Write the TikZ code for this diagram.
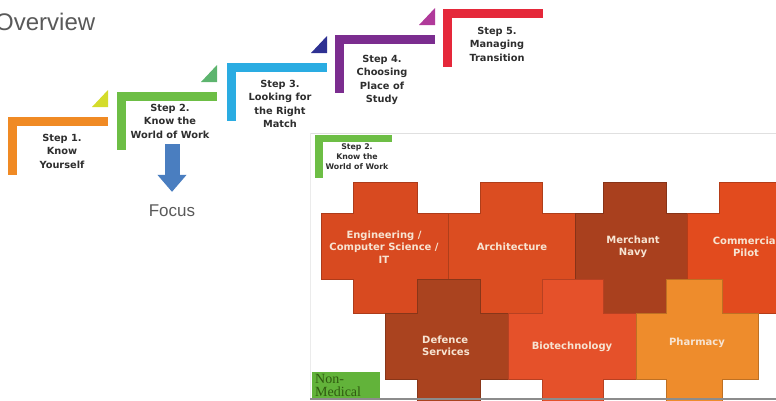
\documentclass[tikz,border=0pt]{standalone}
\usepackage{fontspec}
\setmainfont{Liberation Sans}
\newfontfamily\boxfont{DejaVu Sans}
\newfontfamily\serifbox{Liberation Serif}
\usetikzlibrary{arrows.meta,positioning}
\definecolor{stepone}{HTML}{F08A24}
\definecolor{steptwo}{HTML}{6DBE45}
\definecolor{stepthree}{HTML}{2AACE2}
\definecolor{stepfour}{HTML}{7B2D8F}
\definecolor{stepfive}{HTML}{E5283A}
\definecolor{triyellow}{HTML}{D4DC2A}
\definecolor{trigreen}{HTML}{5DB46E}
\definecolor{triblue}{HTML}{2E3192}
\definecolor{trimagenta}{HTML}{B03A9A}
\definecolor{focusblue}{HTML}{4A7EC0}
\definecolor{textgrey}{HTML}{2E2E2E}
\definecolor{engc}{HTML}{D84A20}
\definecolor{archc}{HTML}{DB4D21}
\definecolor{merchc}{HTML}{A9401E}
\definecolor{commc}{HTML}{E24B1E}
\definecolor{defc}{HTML}{AA431F}
\definecolor{bioc}{HTML}{E5512A}
\definecolor{pharmc}{HTML}{EE8C2C}
\definecolor{nonmedc}{HTML}{62B33A}
\definecolor{nonmedtext}{HTML}{2F5A10}
\definecolor{piecetext}{HTML}{F7E4D2}

\begin{document}
\begin{tikzpicture}[
  x=1pt, y=-1pt,
  steptext/.style={text=textgrey, align=center, inner sep=0pt, font=\boxfont\bfseries\fontsize{9.8}{13.5}\selectfont},
  smalltext/.style={text=textgrey, align=center, inner sep=0pt, font=\boxfont\bfseries\fontsize{7.8}{10}\selectfont},
  piecelabel/.style={text=piecetext, align=center, inner sep=0pt, font=\boxfont\bfseries\fontsize{10}{12.3}\selectfont},
  focusarr/.style={-{Triangle[width=28pt,length=17pt]}, line width=15pt, draw=focusblue}
]
\useasboundingbox (0,0) rectangle (776,400);

% title
\node[anchor=west, inner sep=0pt, text=black!65, font=\fontsize{24}{26}\selectfont] (ovw) at (-5,22) {Overview};

% step brackets
\foreach \x/\y/\c in {8/117/stepone, 117/92/steptwo, 227/63/stepthree, 335/35/stepfour, 443/9/stepfive}{
  \fill[\c] (\x,\y) rectangle ++(100,9);
  \fill[\c] (\x,\y) rectangle ++(9,58);
}
\foreach \x/\y/\c in {8/117/triyellow, 117/92/trigreen, 227/63/triblue, 335/35/trimagenta}
  \fill[\c] (\x+100,\y-10) -- (\x+100,\y-27) -- (\x+84,\y-10) -- cycle;

\node[steptext] (s1) at (62,151) {Step 1.\\Know\\Yourself};
\node[steptext] (s2) at (170,121) {Step 2.\\Know the\\World of Work};
\node[steptext] (s3) at (280,104) {Step 3.\\Looking for\\the Right\\Match};
\node[steptext] (s4) at (382,80) {Step 4.\\Choosing\\Place of\\Study};
\node[steptext] (s5) at (497,44) {Step 5.\\Managing\\Transition};

% focus
\node[inner sep=0pt, text=black!65, font=\fontsize{17}{19}\selectfont] (focus) at (172,211) {Focus};
\draw[focusarr, shorten <=6pt, shorten >=13pt] (focus.north |- s2.south) -- (focus.north);

% inset frame
\draw[black!12] (310,133) -- (776,133);
\draw[black!8] (310,133) -- (310,398);

% small step 2 bracket
\fill[steptwo] (315,135) rectangle (392,142);
\fill[steptwo] (315,135) rectangle (323,178);
\node[smalltext] (s2small) at (357,157) {Step 2.\\Know the\\World of Work};

% puzzle pieces: body x1/x2, tab t1/t2, body y1/y2, tab depth top/bottom
\foreach \xa/\xb/\ta/\tb/\ya/\yb/\ha/\hb/\c in {
  321/448/353/417/213/279/31/34/engc,
  448/575/480/542/213/279/31/34/archc,
  575/687/603/666/213/279/31/34/merchc,
  687/800/719/800/213/279/31/34/commc,
  385/508/417/480/313/379/34/22/defc,
  508/636/542/603/313/379/34/22/bioc,
  636/758/666/722/313/379/34/22/pharmc}{
  \filldraw[fill=\c, draw=\c!80!black, line width=0.5pt]
    (\xa,\ya) -- (\ta,\ya) -- (\ta,\ya-\ha) -- (\tb,\ya-\ha) -- (\tb,\ya) -- (\xb,\ya)
    -- (\xb,\yb) -- (\tb,\yb) -- (\tb,\yb+\hb) -- (\ta,\yb+\hb) -- (\ta,\yb) -- (\xa,\yb) -- cycle;
}

\node[piecelabel] (eng) at (384,247) {Engineering /\\Computer Science /\\IT};
\node[piecelabel] (arch) at (512,247) {Architecture};
\node[piecelabel] (merch) at (633,247) {Merchant\\Navy};
\node[piecelabel] (comm) at (746,247) {Commercial\\Pilot};
\node[piecelabel, align=left, anchor=west] (def) at (422,346) {Defence\\Services};
\node[piecelabel] (bio) at (572,347) {Biotechnology};
\node[piecelabel] (pharm) at (697,343) {Pharmacy};

% non-medical tag
\fill[nonmedc] (312,372) rectangle (380,398);
\node[anchor=north west, inner sep=0pt, align=left, text=nonmedtext, font=\serifbox\fontsize{14}{13.5}\selectfont] (nonmed) at (315,374) {Non-\\Medical};

% bottom edge of inset
\draw[black!45, line width=2pt] (310,399) -- (776,399);
\end{tikzpicture}
\end{document}
